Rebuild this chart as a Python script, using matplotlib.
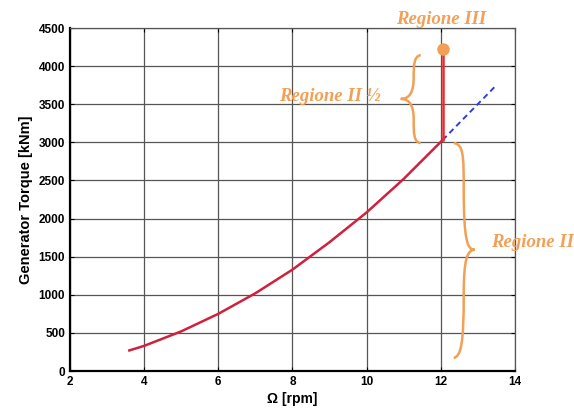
import numpy as np
import matplotlib; matplotlib.use('Agg')
import matplotlib.pyplot as plt
from matplotlib.path import Path
from matplotlib.patches import PathPatch

# values
omega = [3.6, 4.0, 5.0, 6.0, 7.0, 8.0, 9.0, 10.0, 11.0, 12.05]
torque = [270, 330, 520, 750, 1020, 1330, 1690, 2080, 2520, 3030]
omega_ext = [12.05, 13.5]
torque_ext = [3030, 3750]
omega_rated = 12.05
torque_top = 4230

orange = '#f2a055'
plt.rcParams['font.family'] = ['Liberation Sans', 'DejaVu Sans']

fig = plt.figure(figsize=(5.74, 4.12), dpi=100)
ax = fig.add_axes([0.122, 0.0995, 0.775, 0.8325])

ax.plot(omega, torque, color='#d0203c', lw=1.8, zorder=3)
ax.plot(omega_ext, torque_ext, color='#2f3fd8', lw=1.4, ls=(0, (3, 2)), zorder=3)
ax.plot([omega_rated, omega_rated], [torque[-1], torque_top], color='#f0282a', lw=1.8, zorder=3)
ax.plot([omega_rated], [torque_top], 'o', color=orange, ms=8, zorder=4)

def brace(pts):
    verts = [pts[0]]
    codes = [Path.MOVETO]
    for i in range(1, len(pts), 3):
        verts += pts[i:i + 3]
        codes += [Path.CURVE4] * 3
    return PathPatch(Path(verts, codes), fill=False, ec=orange, lw=1.8, zorder=4, clip_on=False)

# Regione II 1/2 brace (tip to the left)
ax.add_patch(brace([(11.46, 4145), (11.27, 4130), (11.27, 4000), (11.27, 3850),
                    (11.27, 3650), (11.15, 3570), (10.92, 3570),
                    (11.15, 3570), (11.27, 3490), (11.27, 3300),
                    (11.27, 3120), (11.27, 3000), (11.46, 2990)]))
# Regione II brace (tip to the right)
ax.add_patch(brace([(12.35, 2990), (12.62, 2980), (12.62, 2800), (12.62, 2400),
                    (12.62, 1700), (12.72, 1590), (12.92, 1590),
                    (12.72, 1590), (12.62, 1480), (12.62, 1000),
                    (12.62, 350), (12.55, 200), (12.35, 170)]))

tkw = dict(color=orange, fontsize=13.5, fontweight='bold', fontstyle='italic',
           family='Liberation Serif')
ax.text(12.0, 4610, 'Regione III', ha='center', va='center', clip_on=False, **tkw)
ax.text(9.0, 3600, 'Regione II ½', ha='center', va='center', **tkw)
ax.text(13.35, 1680, 'Regione II', ha='left', va='center', clip_on=False, **tkw)

ax.set_xlim(2, 14)
ax.set_ylim(0, 4500)
ax.set_xticks(range(2, 15, 2))
ax.set_yticks(range(0, 4501, 500))
ax.grid(color='#555555', lw=0.9)
ax.tick_params(direction='in', length=3, top=True, right=True, labelsize=8.5)
for lab in ax.get_xticklabels() + ax.get_yticklabels():
    lab.set_fontweight('bold')
for s in ['left', 'bottom']:
    ax.spines[s].set_linewidth(1.6)
for s in ['top', 'right']:
    ax.spines[s].set_linewidth(0.9)
    ax.spines[s].set_color('#555555')
ax.set_xlabel('Ω [rpm]', fontsize=10, fontweight='bold', labelpad=3)
ax.set_ylabel('Generator Torque [kNm]', fontsize=10.5, fontweight='bold', labelpad=4)

fig.savefig('out.png', dpi=100)
